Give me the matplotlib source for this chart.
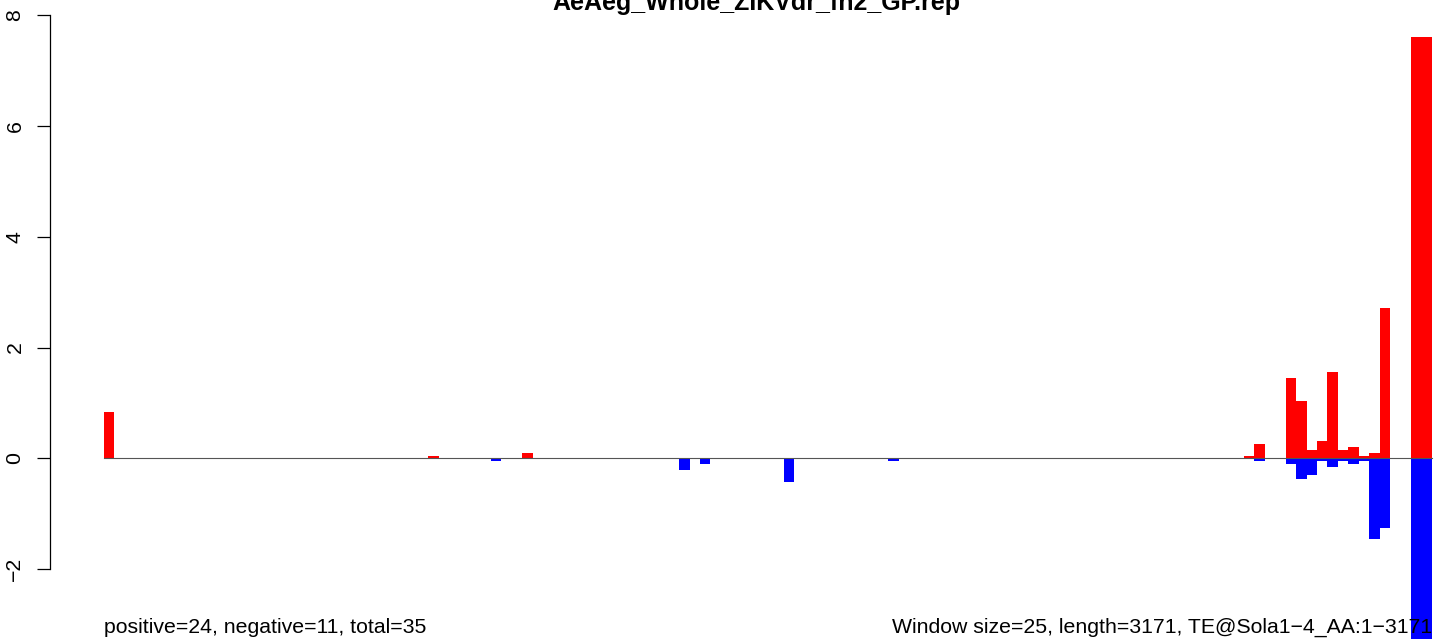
import numpy as np
import matplotlib
matplotlib.use("Agg")
import matplotlib.pyplot as plt
import matplotlib.transforms as mtransforms

plt.rcParams['font.family'] = ['Liberation Sans', 'DejaVu Sans']

title = "AeAeg_Whole_ZIKVdr_fn2_GP.rep"
left_note = "positive=24, negative=11, total=35"
right_note = "Window size=25, length=3171, TE@Sola1\u22124_AA:1\u22123171"

n_windows = 127  # ceil(3171 / 25)

# window index -> value
pos_idx = [0, 31, 40, 109, 110, 113, 114, 115, 116, 117, 118, 119, 120, 121, 122, 125, 126]
pos_val = [0.83, 0.04, 0.09, 0.05, 0.26, 1.45, 1.03, 0.15, 0.31, 1.56, 0.15, 0.20, 0.05, 0.09, 2.71, 7.60, 7.60]
neg_idx = [37, 55, 57, 65, 75, 110, 113, 114, 115, 116, 117, 118, 119, 120, 121, 122, 125, 126]
neg_val = [-0.05, -0.21, -0.10, -0.42, -0.05, -0.04, -0.10, -0.37, -0.31, -0.04, -0.15, -0.04, -0.10, -0.04, -1.45, -1.25, -3.60, -3.60]

pos = np.zeros(n_windows)
neg = np.zeros(n_windows)
pos[pos_idx] = pos_val
neg[neg_idx] = neg_val
x = np.arange(n_windows)

#%%
W, H = 1441, 639
fig = plt.figure(figsize=(W / 100, H / 100), dpi=100)
ax = fig.add_axes([50 / W, 0, (W - 50) / W, 1])

ax.bar(x, pos, width=1, align='edge', color='#ff0000', linewidth=0)
ax.bar(x, neg, width=1, align='edge', color='#0000ff', linewidth=0)
ax.plot([0, n_windows], [0, 0], color='#555555', lw=0.8, zorder=5)

px = 1328 / n_windows
ax.set_xlim(-54 / px, (W - 104) / px)
ax.set_ylim((458.3 - H) / 55.4, 458.3 / 55.4)

for s in ['top', 'right', 'bottom']:
    ax.spines[s].set_visible(False)
ax.spines['left'].set_bounds(-2, 8)
ax.spines['left'].set_linewidth(0.9)
ax.set_xticks([])
ax.set_yticks([-2, 0, 2, 4, 6, 8])
ax.tick_params(axis='y', length=9.4, width=0.9, labelsize=15.3, pad=9, labelrotation=90)
for lab in ax.get_yticklabels():
    lab.set_va('center')

fig.text(756 / W, 1 - 10 / H, title, ha='center', va='baseline', fontsize=18, fontweight='bold')

tr = mtransforms.blended_transform_factory(ax.transData, fig.transFigure)
ax.text(0, 1 - 633 / H, left_note, transform=tr, ha='left', va='baseline', fontsize=15.3, zorder=10)
ax.text(n_windows, 1 - 633 / H, right_note, transform=tr, ha='right', va='baseline', fontsize=15.3, zorder=10)

fig.savefig("out.png", dpi=100)
